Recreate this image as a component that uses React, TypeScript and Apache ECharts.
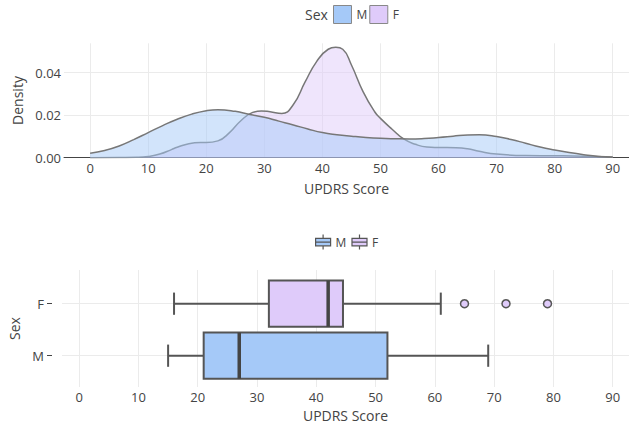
import React, { useEffect, useRef } from "react";
import * as echarts from "echarts";

const FONT = '"Open Sans", "DejaVu Sans", sans-serif';
const TEXT = "#444";
const GRID = "#ebebeb";
const TICK_SIZE = 13;

// shared axis ticks
const scoreTicks = [0, 10, 20, 30, 40, 50, 60, 70, 80, 90];
const densityTicks = [0, 0.02, 0.04];
const sexes = ["M", "F"];

// kernel density estimates of UPDRS score by sex
const maleScoreGrid = [0, 2.5, 5, 7.5, 10, 12.5, 15, 17.5, 20, 22, 25, 27.5, 30, 32.5, 35, 37.5, 40, 42.5, 45, 47.5, 50, 52.5, 55, 57.5, 60, 62.5, 65, 67, 70, 72.5, 75, 77.5, 80, 82.5, 85, 87.5, 90];
const maleDensity = [0.0021, 0.0034, 0.0055, 0.0085, 0.0118, 0.0151, 0.0181, 0.0205, 0.0221, 0.0226, 0.0218, 0.0203, 0.019, 0.0172, 0.0154, 0.0135, 0.0118, 0.0108, 0.0101, 0.0095, 0.0091, 0.0089, 0.0088, 0.009, 0.0095, 0.0101, 0.0107, 0.0108, 0.01, 0.0086, 0.0068, 0.005, 0.0036, 0.0024, 0.0014, 0.0006, 0.0002];

const femaleScoreGrid = [0, 5, 8, 10, 12, 14, 15, 17, 19, 20, 22, 24, 26, 28, 29.5, 31, 33, 35, 37, 39, 41, 42.3, 43.5, 45, 47, 49, 50, 52, 54, 56, 58, 60, 63, 65, 67, 70, 75, 80, 85, 90];
const femaleDensity = [0.0, 0.0001, 0.0002, 0.0006, 0.0017, 0.0038, 0.0049, 0.0066, 0.0071, 0.0071, 0.0079, 0.0118, 0.0175, 0.0213, 0.022, 0.0216, 0.0208, 0.025, 0.0355, 0.0452, 0.051, 0.0519, 0.051, 0.0436, 0.0311, 0.0216, 0.0185, 0.0134, 0.0088, 0.0063, 0.005, 0.0048, 0.0047, 0.0042, 0.003, 0.0017, 0.001, 0.0009, 0.0007, 0.0003];

// box plot summaries: [lower whisker, Q1, median, Q3, upper whisker]
const maleBox = [15, 21, 27, 52, 69];
const femaleBox = [16, 32, 42, 44.5, 61];
const femaleOutliers = [65, 72, 79];

const MALE_FILL = "#a5c9f8";
const FEMALE_FILL = "#dfcbfa";

const pairs = (xs: number[], ys: number[]) => xs.map((x, i) => [x, ys[i]]);

const BOX_ICON = "path://M0,4L16,4L16,12L0,12Z M0,8L16,8 M8,0L8,4 M8,12L8,16";

function makeBoxRenderer(fill: string) {
  return (_params: any, api: any) => {
    const cat = api.value(0);
    const xs = [1, 2, 3, 4, 5].map((i) => api.coord([api.value(i), cat])[0]);
    const [lo, q1, med, q3, hi] = xs;
    const cy = api.coord([0, cat])[1];
    const half = api.size([0, 1])[1] * 0.445;
    const cap = half * 0.48;
    const stroke = "#555";
    const line = (x1: number, y1: number, x2: number, y2: number, w = 2, c = stroke) => ({
      type: "line",
      shape: { x1, y1, x2, y2 },
      style: { stroke: c, lineWidth: w },
    });
    return {
      type: "group",
      children: [
        line(lo, cy, q1, cy),
        line(q3, cy, hi, cy),
        line(lo, cy - cap, lo, cy + cap),
        line(hi, cy - cap, hi, cy + cap),
        {
          type: "rect",
          shape: { x: q1, y: cy - half, width: q3 - q1, height: 2 * half },
          style: { fill, stroke, lineWidth: 2 },
        },
        line(med, cy - half, med, cy + half, 3.5, "#444"),
      ],
    };
  };
}

function densityOption(): any {
  const axisName = { fontSize: 14, color: TEXT, fontFamily: FONT };
  return {
    animation: false,
    textStyle: { fontFamily: FONT },
    graphic: [
      {
        type: "text",
        x: 305,
        y: 14,
        style: { text: "Sex", fontSize: 14, fill: TEXT, fontFamily: FONT, verticalAlign: "middle" },
      },
    ],
    legend: {
      left: 333,
      top: 5,
      padding: 0,
      itemWidth: 18,
      itemHeight: 18,
      itemGap: 2,
      icon: "rect",
      textStyle: { fontSize: 12, color: TEXT, fontFamily: FONT },
      data: [
        { name: "M", itemStyle: { color: MALE_FILL, borderColor: "#888", borderWidth: 1 } },
        { name: "F", itemStyle: { color: FEMALE_FILL, borderColor: "#888", borderWidth: 1 } },
      ],
    },
    grid: { left: 64, right: 0, top: 43.3, height: 114.4, containLabel: false, outerBoundsMode: "none" },
    xAxis: {
      type: "value",
      min: -4.5,
      max: 92.8,
      axisLine: { show: true, onZero: false, lineStyle: { color: TEXT, width: 1 } },
      axisTick: { show: false, customValues: scoreTicks },
      axisLabel: { customValues: scoreTicks, color: TEXT, fontSize: TICK_SIZE, margin: 4, fontFamily: FONT },
      splitLine: { show: true, lineStyle: { color: GRID, width: 1 } },
      name: "UPDRS Score",
      nameLocation: "middle",
      nameGap: 24,
      nameTextStyle: axisName,
    },
    yAxis: {
      type: "value",
      min: 0,
      max: 0.0538,
      axisLine: { show: false, onZero: false },
      axisTick: { show: false, customValues: densityTicks },
      axisLabel: {
        customValues: densityTicks,
        color: TEXT,
        fontSize: TICK_SIZE,
        margin: 3,
        fontFamily: FONT,
        formatter: (v: number) => v.toFixed(2),
      },
      splitLine: { show: true, lineStyle: { color: GRID, width: 1 } },
      name: "Density",
      nameLocation: "middle",
      nameGap: 35,
      nameTextStyle: axisName,
    },
    series: [
      {
        name: "F",
        type: "line",
        data: pairs(femaleScoreGrid, femaleDensity),
        smooth: 0.5,
        showSymbol: false,
        lineStyle: { color: "#777", width: 1.5 },
        itemStyle: { color: FEMALE_FILL },
        areaStyle: { color: "rgba(223,203,250,0.5)", opacity: 1 },
        z: 2,
      },
      {
        name: "M",
        type: "line",
        data: pairs(maleScoreGrid, maleDensity),
        smooth: 0.5,
        showSymbol: false,
        lineStyle: { color: "#777", width: 1.5 },
        itemStyle: { color: MALE_FILL },
        areaStyle: { color: "rgba(165,201,248,0.5)", opacity: 1 },
        z: 3,
      },
    ],
  };
}

function boxOption(): any {
  const axisName = { fontSize: 14, color: TEXT, fontFamily: FONT };
  return {
    animation: false,
    textStyle: { fontFamily: FONT },
    legend: {
      left: 315,
      top: 22,
      padding: 0,
      itemWidth: 15,
      itemHeight: 15,
      itemGap: 5,
      textStyle: { fontSize: 12, color: TEXT, fontFamily: FONT },
      data: [
        { name: "M", icon: BOX_ICON, itemStyle: { color: MALE_FILL, borderColor: "#555", borderWidth: 1.2 } },
        { name: "F", icon: BOX_ICON, itemStyle: { color: FEMALE_FILL, borderColor: "#555", borderWidth: 1.2 } },
      ],
    },
    grid: { left: 62, right: 0, top: 58, height: 117, containLabel: false, outerBoundsMode: "none" },
    xAxis: {
      type: "value",
      min: -2.9,
      max: 92.75,
      axisLine: { show: false, onZero: false },
      axisTick: { show: false, customValues: scoreTicks },
      axisLabel: { customValues: scoreTicks, color: TEXT, fontSize: TICK_SIZE, margin: 3, fontFamily: FONT },
      splitLine: { show: true, lineStyle: { color: GRID, width: 1 } },
      name: "UPDRS Score",
      nameLocation: "middle",
      nameGap: 21,
      nameTextStyle: axisName,
    },
    yAxis: {
      type: "value",
      min: -0.602,
      max: 1.648,
      offset: 10,
      axisLine: { show: false, onZero: false },
      axisTick: { show: true, customValues: [0, 1], length: 5, lineStyle: { color: TEXT, width: 1 } },
      axisLabel: {
        customValues: [0, 1],
        color: TEXT,
        fontSize: TICK_SIZE,
        margin: 8,
        fontFamily: FONT,
        formatter: (v: number) => sexes[Math.round(v)],
      },
      splitLine: { show: true, lineStyle: { color: GRID, width: 1 } },
      name: "Sex",
      nameLocation: "middle",
      nameGap: 20,
      nameTextStyle: axisName,
    },
    series: [
      {
        name: "M",
        type: "custom",
        renderItem: makeBoxRenderer(MALE_FILL),
        itemStyle: { color: MALE_FILL },
        encode: { x: [1, 2, 3, 4, 5], y: 0 },
        data: [[0, ...maleBox]],
      },
      {
        name: "F",
        type: "custom",
        renderItem: makeBoxRenderer(FEMALE_FILL),
        itemStyle: { color: FEMALE_FILL },
        encode: { x: [1, 2, 3, 4, 5], y: 0 },
        data: [[1, ...femaleBox]],
      },
      {
        name: "F",
        type: "scatter",
        symbolSize: 8,
        itemStyle: { color: FEMALE_FILL, borderColor: "#555", borderWidth: 1.5, opacity: 1 },
        data: femaleOutliers.map((v) => [v, 1]),
        z: 3,
      },
    ],
  };
}

function Chart({ option, top, height }: { option: any; top: number; height: number }) {
  const ref = useRef<HTMLDivElement>(null);
  useEffect(() => {
    if (!ref.current) return;
    const chart = echarts.init(ref.current, undefined, { renderer: "svg" });
    chart.setOption(option);
    return () => chart.dispose();
  }, [option]);
  return <div ref={ref} style={{ position: "absolute", left: 0, top, width: 629, height }} />;
}

const topOption = densityOption();
const bottomOption = boxOption();

export default function App() {
  return (
    <div style={{ position: "absolute", left: 0, top: 0, width: 629, height: 425, background: "#fff", overflow: "hidden" }}>
      <Chart option={topOption} top={0} height={212} />
      <Chart option={bottomOption} top={212} height={213} />
    </div>
  );
}
